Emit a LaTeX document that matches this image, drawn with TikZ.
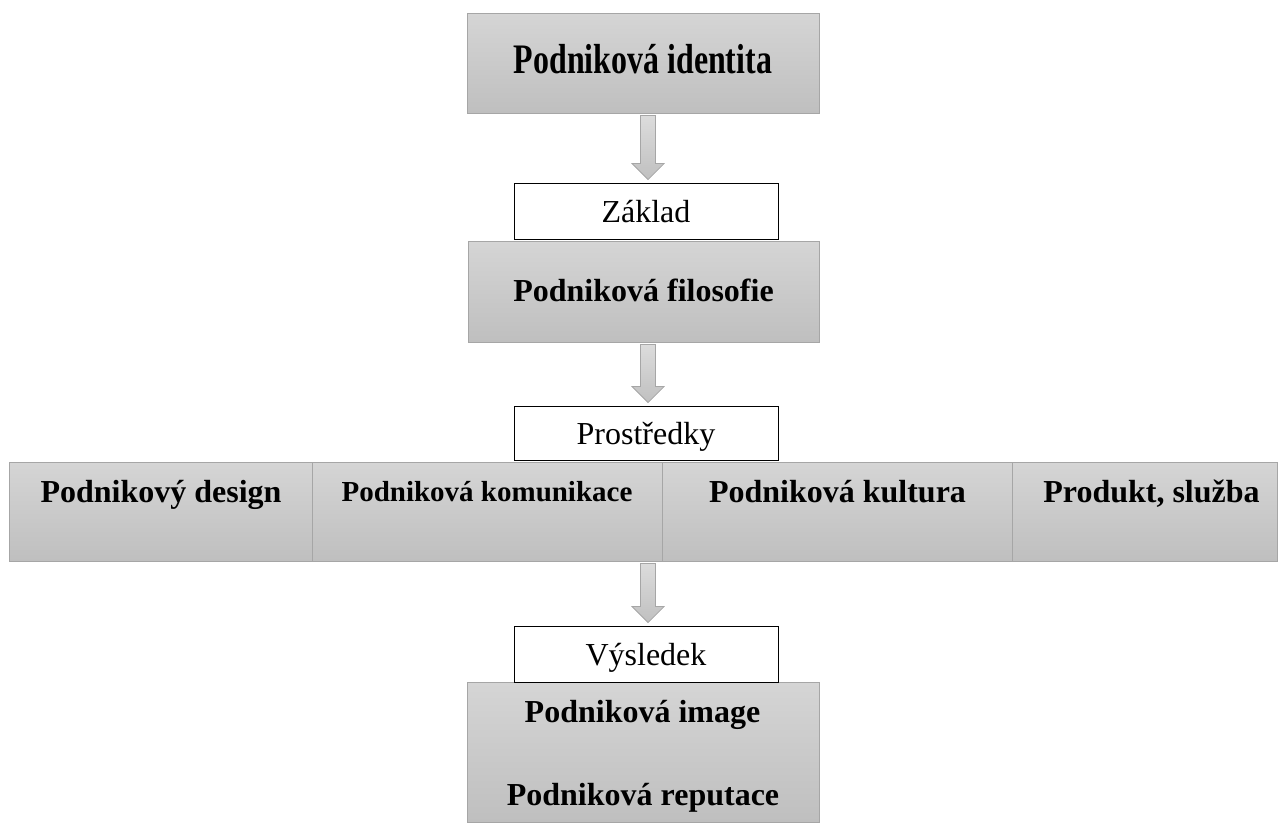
\documentclass[tikz,border=0pt]{standalone}
\usepackage{graphicx}
\usepackage{fontspec}
\setmainfont{Liberation Serif}
\usetikzlibrary{calc}

\definecolor{boxtop}{RGB}{213,213,213}
\definecolor{boxbot}{RGB}{191,191,191}
\definecolor{boxline}{RGB}{166,166,166}
\definecolor{arrtop}{RGB}{220,220,220}
\definecolor{arrbot}{RGB}{192,192,192}

\tikzset{
  graybox/.style={rectangle, draw=boxline, line width=0.8pt,
    top color=boxtop, bottom color=boxbot, inner sep=0pt},
  tagbox/.style={rectangle, draw=black, line width=0.9pt, fill=white,
    inner sep=0pt, minimum width=264pt, minimum height=56pt,
    text height=25pt, text depth=3pt, font=\fontsize{32}{38}\selectfont},
  boldtext/.style={anchor=base, inner sep=0pt,
    font=\fontsize{32}{38}\selectfont\bfseries},
  blockarrow/.style={draw=boxline, line width=0.8pt,
    top color=arrtop, bottom color=arrbot},
}

% block arrow from the bottom of #1 down to the top of #2
\newcommand\blockarrow[2]{%
  \path[blockarrow] let \p1=(#1.south), \p2=($(#2.north)+(2pt,0pt)$) in
    (\x2-7.5pt,\y1-2pt) -- (\x2+7.5pt,\y1-2pt) -- (\x2+7.5pt,\y2+19pt)
    -- (\x2+16pt,\y2+19pt) -- (\x2,\y2+3pt) -- (\x2-16pt,\y2+19pt)
    -- (\x2-7.5pt,\y2+19pt) -- cycle;}

\begin{document}
\begin{tikzpicture}[x=1pt,y=-1pt]
\useasboundingbox (0,0) rectangle (1279,823);

% gray boxes
\node[graybox, minimum width=352pt, minimum height=100pt] (ident) at (643,63) {};
\node[graybox, minimum width=351pt, minimum height=101pt] (filos) at (643.5,291.5) {};
\node[graybox, minimum width=303pt, minimum height=99pt] (design) at (160.5,511.5) {};
\node[graybox, minimum width=350pt, minimum height=99pt] (komun) at (487,511.5) {};
\node[graybox, minimum width=350pt, minimum height=99pt] (kult) at (837,511.5) {};
\node[graybox, minimum width=265pt, minimum height=99pt] (prod) at (1144.5,511.5) {};
\node[graybox, minimum width=352pt, minimum height=140pt] (result) at (643,752) {};

% texts of the gray boxes
\node[boldtext, font=\fontsize{42}{48}\selectfont\bfseries] (identT) at (643,73)
  {\scalebox{0.76}[1]{Podniková identita}};
\node[boldtext] (filosT) at (643.5,301) {Podniková filosofie};
\node[boldtext] (designT) at (161,502) {Podnikový design};
\node[boldtext, font=\fontsize{29}{35}\selectfont\bfseries] (komunT) at (487,501) {Podniková komunikace};
\node[boldtext] (kultT) at (837.5,502) {Podniková kultura};
\node[boldtext] (prodT) at (1151.5,502) {Produkt, služba};
\node[boldtext] (imageT) at (642.5,722) {Podniková image};
\node[boldtext] (reputT) at (643,805) {Podniková reputace};

% white tag boxes
\node[tagbox] (zaklad) at (646,211) {Základ};
\node[tagbox, minimum height=54pt] (prost) at (646,433) {Prostředky};
\node[tagbox] (vysl) at (646,654) {Výsledek};

% arrows
\blockarrow{ident}{zaklad}
\blockarrow{filos}{prost}
\blockarrow{komun}{vysl}
\end{tikzpicture}
\end{document}
